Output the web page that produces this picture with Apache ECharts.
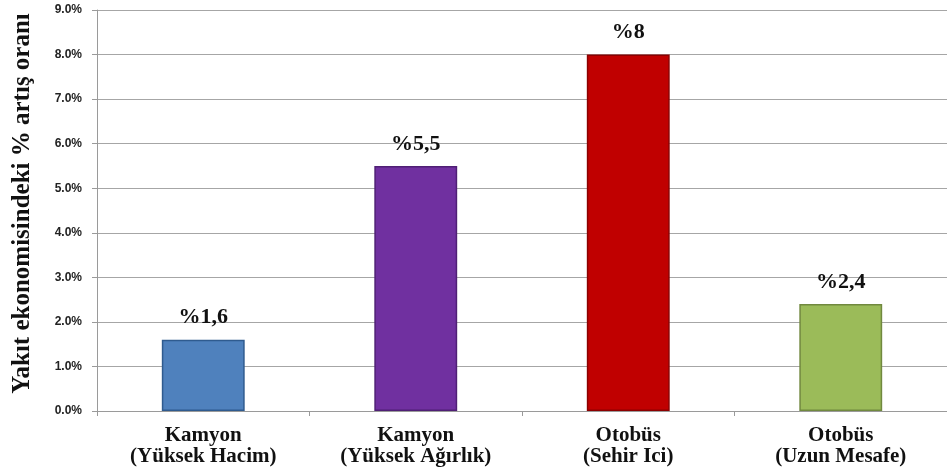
<!DOCTYPE html>
<html>
<head>
<meta charset="utf-8">
<style>
  html, body { margin: 0; padding: 0; background: #ffffff; }
  #chart { width: 947px; height: 475px; }
</style>
<script src="https://cdn.jsdelivr.net/npm/echarts@6/dist/echarts.min.js"></script>
</head>
<body>
<div id="chart"></div>
<script>
// Vehicle categories (two-line labels)
const categories = [
  'Kamyon\n(Yüksek Hacim)',
  'Kamyon\n(Yüksek Ağırlık)',
  'Otobüs\n(Sehir Ici)',
  'Otobüs\n(Uzun Mesafe)'
];
// Fuel economy increase, percent
const values = [1.6, 5.5, 8, 2.4];
// Value labels written above each bar
const valueLabels = ['%1,6', '%5,5', '%8', '%2,4'];
// Bar fill and edge colours
const barColors = ['#4f81bd', '#7030a0', '#c00000', '#9bbb59'];
const barBorders = ['#2f5b8f', '#4f1f75', '#8c0000', '#71893f'];

const chart = echarts.init(document.getElementById('chart'), null, { renderer: 'canvas' });

chart.setOption({
  animation: false,
  grid: { left: 97, right: 0, top: 10, bottom: 64 },
  xAxis: {
    type: 'category',
    data: categories,
    axisLine: { show: true, lineStyle: { color: '#9a9a9a', width: 1 } },
    axisTick: { show: true, length: 5, lineStyle: { color: '#9a9a9a' } },
    axisLabel: {
      color: '#111',
      fontFamily: 'Liberation Serif',
      fontWeight: 'bold',
      fontSize: 21,
      lineHeight: 21,
      margin: 14
    }
  },
  yAxis: {
    type: 'value',
    min: 0,
    max: 9,
    interval: 1,
    name: 'Yakıt ekonomisindeki % artış oranı',
    nameLocation: 'middle',
    nameGap: 62,
    nameRotate: 90,
    nameTextStyle: {
      color: '#111',
      fontFamily: 'Liberation Serif',
      fontWeight: 'bold',
      fontSize: 25,
      padding: [0, 0, 0, 14]
    },
    axisLine: { show: true, lineStyle: { color: '#9a9a9a', width: 1 } },
    axisTick: { show: true, length: 5, lineStyle: { color: '#9a9a9a' } },
    splitLine: { show: true, lineStyle: { color: '#a6a6a6', width: 1 } },
    axisLabel: {
      color: '#222',
      fontFamily: 'Liberation Sans',
      fontWeight: 'bold',
      fontSize: 12,
      margin: 15,
      formatter: v => v.toFixed(1) + '%'
    }
  },
  series: [{
    type: 'bar',
    barWidth: '39%',
    data: values.map((v, i) => ({
      value: v,
      itemStyle: { color: barColors[i], borderColor: barBorders[i], borderWidth: 1.5 },
      label: {
        show: true,
        position: 'top',
        distance: 11,
        formatter: valueLabels[i],
        color: '#111',
        fontFamily: 'Liberation Serif',
        fontWeight: 'bold',
        fontSize: 22
      }
    }))
  }]
});
</script>
</body>
</html>
